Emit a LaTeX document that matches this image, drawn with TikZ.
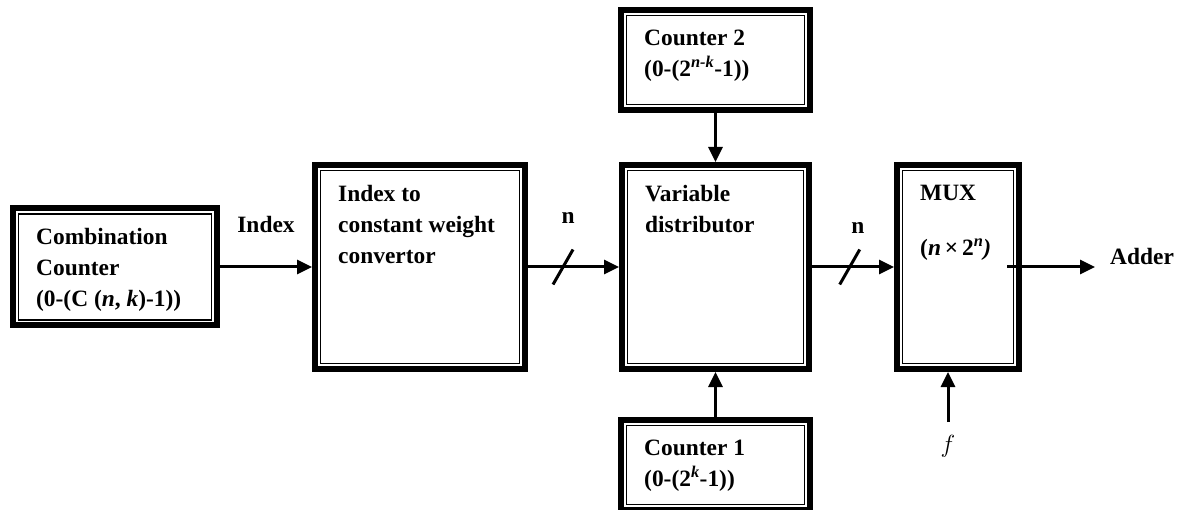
\documentclass[tikz,border=0pt]{standalone}
\usepackage{fontspec}
\setmainfont{Liberation Serif}
\usetikzlibrary{positioning,arrows.meta}

\begin{document}
\begin{tikzpicture}
  [x=1bp,y=1bp,
   blockN/.style={rectangle,draw,line width=6bp,
     path picture={\draw[line width=1.3bp]
       ([shift={(5.5bp,-5.5bp)}]path picture bounding box.north west) rectangle
       ([shift={(-5.5bp,5.5bp)}]path picture bounding box.south east);}},
   blockT/.style={anchor=north west,align=left,inner sep=0pt,xshift=26bp,yshift=-23bp,
     font=\fontsize{23.5}{31}\selectfont\bfseries},
   sigT/.style={inner sep=0pt,font=\fontsize{23.5}{28}\selectfont\bfseries},
   sigA/.style={line width=3bp,-{Triangle[length=15bp,width=14bp]}},
   busS/.style={line width=3bp}]

  \useasboundingbox (0,0) rectangle (1185,-510);

  \node[blockN,minimum width=204bp,minimum height=117bp,
    label={[blockT]north west:{Combination\\Counter\\(0-(C (\textit{n}, \textit{k})-1))}}]
    (comb) at (115,-267) {};
  \node[blockN,minimum width=210bp,minimum height=204bp,right=92bp of comb,
    label={[blockT]north west:{Index to\\constant weight\\convertor}}] (conv) {};
  \node[blockN,minimum width=187bp,minimum height=204bp,right=91bp of conv,
    label={[blockT]north west:{Variable\\distributor}}] (dist) {};
  \node[blockN,minimum width=122bp,minimum height=204bp,right=82bp of dist,
    label={[blockT]north west:{MUX\\[24bp](\textit{n}\,×\,2\textsuperscript{\textit{n}}\textit{)}}}] (mux) {};
  \node[blockN,minimum width=189bp,minimum height=100bp,above=49bp of dist,
    label={[blockT]north west:{Counter 2\\(0-(2\textsuperscript{\textit{n-k}}-1))}}] (cnt2) {};
  \node[blockN,minimum width=189bp,minimum height=90bp,below=45bp of dist,
    label={[blockT]north west:{Counter 1\\(0-(2\textsuperscript{\textit{k}}-1))}}] (cnt1) {};

  \node[sigT,minimum height=48bp,below=50bp of mux,xshift=-10bp] (f) {$f$};
  \node[sigT,anchor=base west] (adder) at ([shift={(88bp,2bp)}]mux.east) {Adder};

  \draw[sigA] (comb) -- node[sigT,above=33bp] {Index} (conv);
  \draw[sigA] (conv) -- coordinate[pos=.385] (bus1) node[sigT,pos=.44,above=42bp] {n} (dist);
  \draw[busS] ([shift={(-10,-17.5)}]bus1) -- ([shift={(10,17.5)}]bus1);
  \draw[sigA] (dist) -- coordinate[pos=.46] (bus2) node[sigT,pos=.56,above=32bp] {n} (mux);
  \draw[busS] ([shift={(-10,-17.5)}]bus2) -- ([shift={(10,17.5)}]bus2);
  \draw[sigA] (cnt2) -- (dist);
  \draw[sigA] (cnt1) -- (dist);
  \draw[sigA] (f) -- (f |- mux.south);
  \draw[sigA] ([xshift=-15bp]mux.east) -- ([xshift=-15bp]adder.west |- mux.east);

\end{tikzpicture}
\end{document}
